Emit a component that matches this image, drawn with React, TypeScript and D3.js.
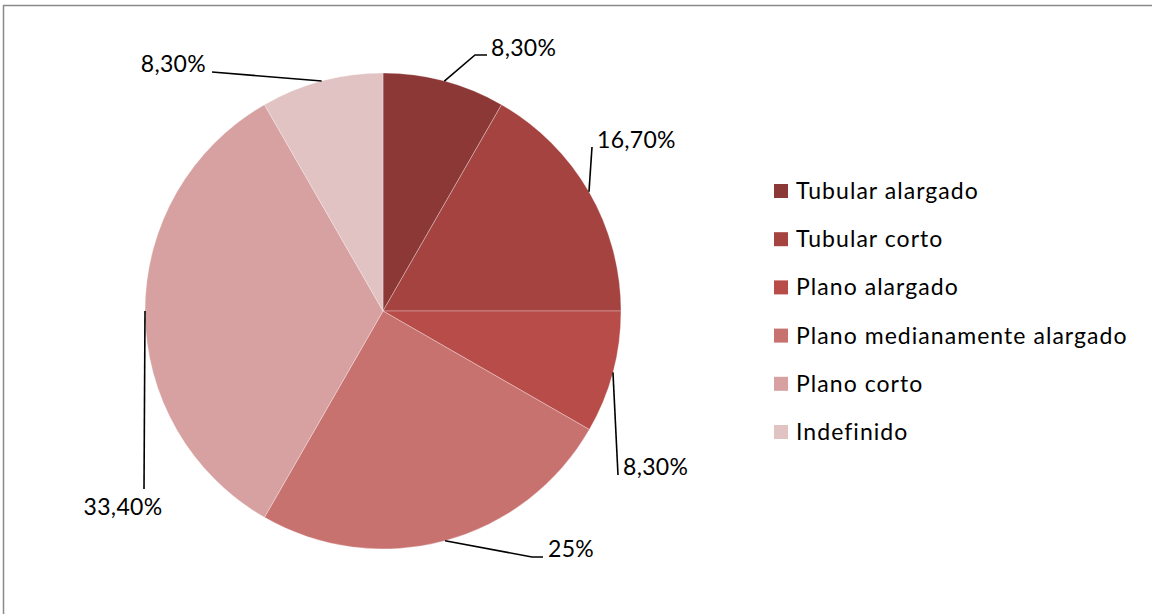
import React from "react";
import * as d3 from "d3";

const categories = [
  "Tubular alargado",
  "Tubular corto",
  "Plano alargado",
  "Plano medianamente alargado",
  "Plano corto",
  "Indefinido",
];
const values = [8.3, 16.7, 8.3, 25, 33.4, 8.3];
const valueLabels = ["8,30%", "16,70%", "8,30%", "25%", "33,40%", "8,30%"];
const colors = ["#8C3836", "#A54341", "#B84C48", "#C87270", "#D6A1A0", "#E2C3C3"];

// label layout: leader bend points (relative to pie centre) and text placement
const labelLayout = [
  { pts: [[92, -256], [104, -256]], tx: 108, ty: -255, anchor: "start" },
  { pts: [[209, -164]], tx: 214, ty: -163, anchor: "start" },
  { pts: [[235, 164]], tx: 240, ty: 164, anchor: "start" },
  { pts: [[149, 246], [160, 246]], tx: 165, ty: 246, anchor: "start" },
  { pts: [[-239, 178]], tx: -260, ty: 204, anchor: "middle" },
  { pts: [[-171, -239]], tx: -177, ty: -239, anchor: "end" },
];

const W = 1152;
const H = 614;
const cx = 383;
const cy = 311;
const R = 238;
const FONT = "Lato, 'Open Sans', sans-serif";

export default function App() {
  const pie = d3.pie<number>().sort(null).value((d) => d);
  const arcs = pie(values);
  const arcGen = d3.arc<d3.PieArcDatum<number>>().innerRadius(0).outerRadius(R);
  const legendY = d3.scaleLinear().domain([0, categories.length - 1]).range([191, 432]);

  return (
    <svg
      width={W}
      height={H}
      style={{ position: "absolute", left: 0, top: 0, background: "#fff" }}
      fontFamily={FONT}
    >
      <rect x={3.5} y={5.5} width={W + 20} height={H + 20} fill="#fff" stroke="#8a8a8a" strokeWidth={1.5} />
      <g transform={`translate(${cx},${cy})`}>
        {arcs.map((a, i) => (
          <path key={i} d={arcGen(a) || ""} fill={colors[i]} stroke="#fff" strokeOpacity={0.5} strokeWidth={0.6} />
        ))}
        {arcs.map((a, i) => {
          const mid = (a.startAngle + a.endAngle) / 2;
          const p0: [number, number] = [R * Math.sin(mid), -R * Math.cos(mid)];
          const lay = labelLayout[i];
          const line = d3.line()([p0, ...(lay.pts as [number, number][])]);
          return (
            <g key={"l" + i}>
              <path d={line || ""} fill="none" stroke="#000" strokeWidth={1.6} />
              <text
                x={lay.tx}
                y={lay.ty}
                textAnchor={lay.anchor as any}
                fontSize={23}
                letterSpacing={0.3}
                fill="#000"
              >
                {valueLabels[i]}
              </text>
            </g>
          );
        })}
      </g>
      <g>
        {categories.map((c, i) => (
          <g key={c} transform={`translate(774,${legendY(i)})`}>
            <rect x={0} y={-7} width={14} height={14} fill={colors[i]} />
            <text x={22} y={8} fontSize={23} letterSpacing={1.05} fill="#000">
              {c}
            </text>
          </g>
        ))}
      </g>
    </svg>
  );
}
